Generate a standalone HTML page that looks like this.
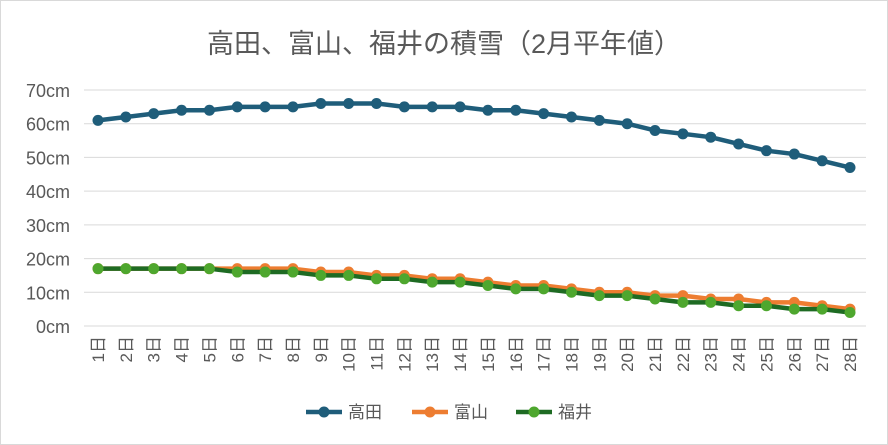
<!DOCTYPE html>
<html><head><meta charset="utf-8"><style>
body{margin:0;background:#fff}
svg{display:block;font-family:"Liberation Sans","Noto Sans CJK JP",sans-serif}
</style></head><body>
<svg id="c" width="888" height="445" xmlns="http://www.w3.org/2000/svg">
<rect x="0.5" y="0.5" width="887" height="444" fill="#fff" stroke="#d9d9d9"/>
<text x="444" y="53" text-anchor="middle" font-size="27" fill="#595959">高田、富山、福井の積雪（2月平年値）</text>
<g id="g"></g>
</svg>
<script>
var g=document.getElementById('g'),s='';
function Y(v){return 326-v*236/70}
function X(i){return 98+i*(850-98)/27}
for(var v=0;v<=70;v+=10){var y=Y(v);s+='<line x1="84" x2="866" y1="'+y+'" y2="'+y+'" stroke="#d9d9d9" stroke-width="1"/>';
s+='<text x="70" y="'+(y+7)+'" text-anchor="end" font-size="18" fill="#595959">'+v+'cm</text>';}
for(var i=0;i<28;i++){var x=X(i);s+='<text transform="translate('+(x+6)+',336) rotate(-90)" text-anchor="end" font-size="17" fill="#595959">'+(i+1)+'日</text>';}
var T=[61,62,63,64,64,65,65,65,66,66,66,65,65,65,64,64,63,62,61,60,58,57,56,54,52,51,49,47];
var F=[17,17,17,17,17,16,16,16,15,15,14,14,13,13,12,11,11,10,9,9,8,7,7,6,6,5,5,4];
var U=[17,17,17,17,17,17,17,17,16,16,15,15,14,14,13,12,12,11,10,10,9,9,8,8,7,7,6,5];
function ser(d,lc,mc){var p=d.map(function(v,i){return X(i)+','+Y(v)}).join(' ');
s+='<polyline points="'+p+'" fill="none" stroke="'+lc+'" stroke-width="4.5" stroke-linejoin="round"/>';
d.forEach(function(v,i){s+='<circle cx="'+X(i)+'" cy="'+Y(v)+'" r="5.5" fill="'+mc+'"/>'});}
ser(T,'#1f5d7a','#1f5d7a');ser(U,'#ed7d31','#ed7d31');ser(F,'#1e6b23','#4ea72e');
function leg(x,lc,mc,t){s+='<line x1="'+x+'" x2="'+(x+36)+'" y1="412" y2="412" stroke="'+lc+'" stroke-width="4.5"/><circle cx="'+(x+18)+'" cy="412" r="5.5" fill="'+mc+'"/><text x="'+(x+42)+'" y="418" font-size="17" fill="#595959">'+t+'</text>';}
leg(306,'#1f5d7a','#1f5d7a','高田');leg(412,'#ed7d31','#ed7d31','富山');leg(516,'#1e6b23','#4ea72e','福井');
g.innerHTML=s;
</script>
</body></html>
